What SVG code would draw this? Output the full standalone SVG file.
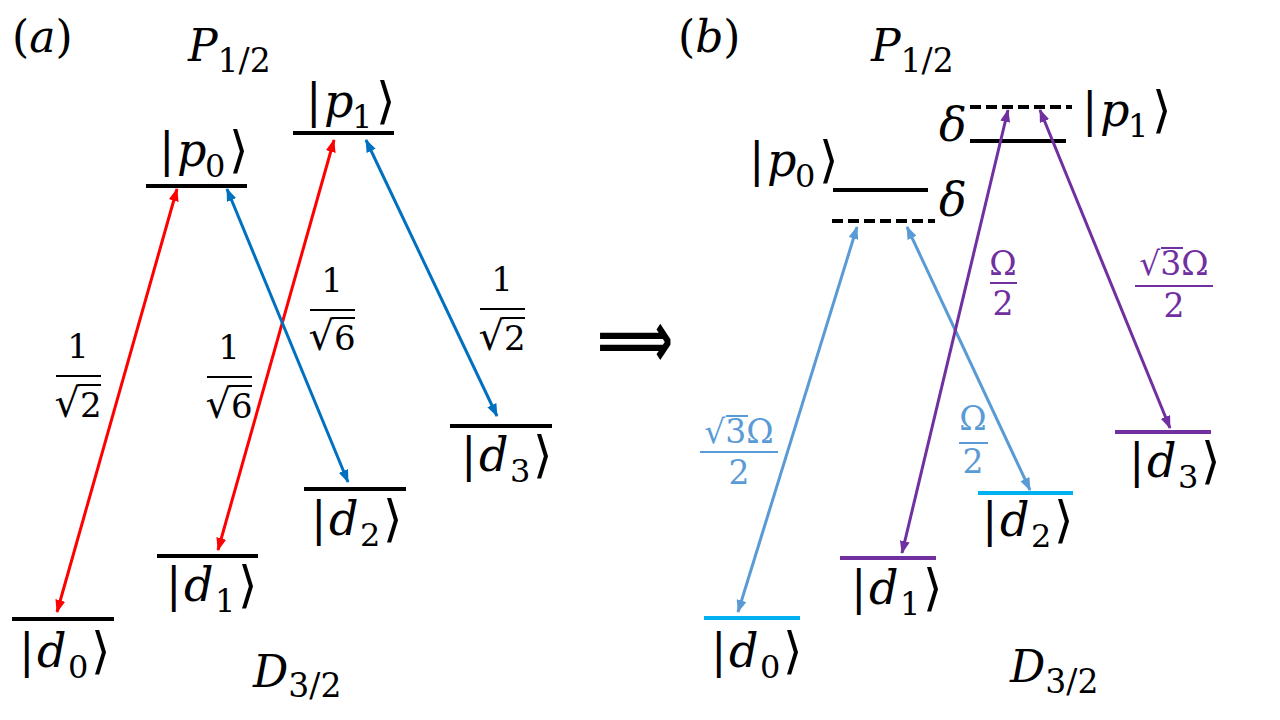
<svg xmlns="http://www.w3.org/2000/svg" width="1280" height="720" viewBox="0 0 1280 720">
<defs>
<style>
.m{font-family:"DejaVu Serif","DejaVu Sans",serif;font-size:46px;fill:#000}
.it{font-style:italic}
.sb{font-size:32px;font-style:normal}
.ang{font-family:"DejaVu Sans",sans-serif;font-style:normal;font-size:50px}
.t{font-family:"DejaVu Serif","DejaVu Sans",serif;font-size:44px;fill:#000}
.ts{font-size:33px;font-style:normal}
.fr{font-family:"DejaVu Serif","DejaVu Sans",serif;font-size:34px;text-anchor:middle;fill:#000}
.rt{font-size:40px}
.fb{font-family:"DejaVu Serif","DejaVu Sans",serif;font-size:33px;text-anchor:middle}
.lv{stroke:#000;stroke-width:4;fill:none}
.dash{stroke-dasharray:11 5}
.bar{stroke-width:2;fill:none}
.ar{stroke-width:3;fill:none}
</style>
<marker id="mr" markerUnits="userSpaceOnUse" markerWidth="13" markerHeight="10" refX="12" refY="5" orient="auto-start-reverse"><path d="M0,0 L13,5 L0,10 z" fill="#FF0000"/></marker>
<marker id="mb" markerUnits="userSpaceOnUse" markerWidth="13" markerHeight="10" refX="12" refY="5" orient="auto-start-reverse"><path d="M0,0 L13,5 L0,10 z" fill="#0070C0"/></marker>
<marker id="ml" markerUnits="userSpaceOnUse" markerWidth="13" markerHeight="10" refX="12" refY="5" orient="auto-start-reverse"><path d="M0,0 L13,5 L0,10 z" fill="#5B9BD5"/></marker>
<marker id="mp" markerUnits="userSpaceOnUse" markerWidth="13" markerHeight="10" refX="12" refY="5" orient="auto-start-reverse"><path d="M0,0 L13,5 L0,10 z" fill="#7030A0"/></marker>
</defs>
<rect width="1280" height="720" fill="#fff"/>

<!-- Panel labels -->
<g id="labels">
<text class="t" x="12" y="52">(<tspan class="it">a</tspan>)</text>
<text class="t" x="678" y="52">(<tspan class="it">b</tspan>)</text>
<text class="t" x="188" y="61"><tspan class="it">P</tspan><tspan class="ts" dy="11">1/2</tspan></text>
<text class="t" x="871" y="61"><tspan class="it">P</tspan><tspan class="ts" dy="11">1/2</tspan></text>
<text class="t" x="253" y="687"><tspan class="it">D</tspan><tspan class="ts" dy="10">3/2</tspan></text>
<text class="t" x="1010" y="682"><tspan class="it">D</tspan><tspan class="ts" dy="11">3/2</tspan></text>
<text x="597" y="367" font-family="DejaVu Sans, sans-serif" font-weight="bold" font-size="80" textLength="76" lengthAdjust="spacingAndGlyphs">⟹</text>
</g>

<!-- Panel (a) levels -->
<g id="a-p0"><line class="lv" x1="146" y1="186" x2="247" y2="186"/>
<text class="m" y="166"><tspan x="159">|</tspan><tspan class="it" x="177">p</tspan><tspan class="sb" x="205" y="177">0</tspan><tspan class="ang" x="229" y="167">⟩</tspan></text></g>
<g id="a-p1"><line class="lv" x1="293" y1="133" x2="394" y2="133"/>
<text class="m" y="117"><tspan x="306">|</tspan><tspan class="it" x="324">p</tspan><tspan class="sb" x="352" y="128">1</tspan><tspan class="ang" x="376" y="118">⟩</tspan></text></g>
<g id="a-d0"><line class="lv" x1="12" y1="619" x2="114" y2="619"/>
<text class="m" y="667"><tspan x="19">|</tspan><tspan class="it" x="37">d</tspan><tspan class="sb" x="68" y="678">0</tspan><tspan class="ang" x="91" y="668">⟩</tspan></text></g>
<g id="a-d1"><line class="lv" x1="157" y1="556" x2="258" y2="556"/>
<text class="m" y="601"><tspan x="166">|</tspan><tspan class="it" x="184">d</tspan><tspan class="sb" x="215" y="612">1</tspan><tspan class="ang" x="238" y="602">⟩</tspan></text></g>
<g id="a-d2"><line class="lv" x1="304" y1="489" x2="406" y2="489"/>
<text class="m" y="535"><tspan x="311">|</tspan><tspan class="it" x="329">d</tspan><tspan class="sb" x="360" y="546">2</tspan><tspan class="ang" x="383" y="536">⟩</tspan></text></g>
<g id="a-d3"><line class="lv" x1="450" y1="426" x2="552" y2="426"/>
<text class="m" y="471"><tspan x="461">|</tspan><tspan class="it" x="479">d</tspan><tspan class="sb" x="510" y="482">3</tspan><tspan class="ang" x="533" y="472">⟩</tspan></text></g>

<!-- Panel (b) levels -->
<g id="b-p0"><line class="lv" x1="833" y1="190" x2="928" y2="190"/>
<line class="lv dash" x1="832" y1="221" x2="935" y2="221"/>
<text class="m" y="176"><tspan x="749">|</tspan><tspan class="it" x="767">p</tspan><tspan class="sb" x="795" y="187">0</tspan><tspan class="ang" x="819" y="177">⟩</tspan></text>
<text class="m it" x="939" y="216" font-size="40">δ</text></g>
<g id="b-p1"><line class="lv dash" x1="970" y1="107" x2="1072" y2="107"/>
<line class="lv" x1="970" y1="141" x2="1066" y2="141"/>
<text class="m" y="126"><tspan x="1082">|</tspan><tspan class="it" x="1100">p</tspan><tspan class="sb" x="1128" y="137">1</tspan><tspan class="ang" x="1152" y="127">⟩</tspan></text>
<text class="m it" x="939" y="141" font-size="40">δ</text></g>
<g id="b-d0"><line class="lv" style="stroke:#00B0F0" x1="704" y1="618" x2="800" y2="618"/>
<text class="m" y="667"><tspan x="711">|</tspan><tspan class="it" x="729">d</tspan><tspan class="sb" x="760" y="678">0</tspan><tspan class="ang" x="783" y="668">⟩</tspan></text></g>
<g id="b-d1"><line class="lv" style="stroke:#7030A0" x1="840" y1="558" x2="936" y2="558"/>
<text class="m" y="604"><tspan x="851">|</tspan><tspan class="it" x="869">d</tspan><tspan class="sb" x="900" y="615">1</tspan><tspan class="ang" x="923" y="605">⟩</tspan></text></g>
<g id="b-d2"><line class="lv" style="stroke:#00B0F0" x1="978" y1="493" x2="1073" y2="493"/>
<text class="m" y="536"><tspan x="982">|</tspan><tspan class="it" x="1000">d</tspan><tspan class="sb" x="1031" y="547">2</tspan><tspan class="ang" x="1054" y="537">⟩</tspan></text></g>
<g id="b-d3"><line class="lv" style="stroke:#7030A0" x1="1115" y1="432" x2="1211" y2="432"/>
<text class="m" y="477"><tspan x="1129">|</tspan><tspan class="it" x="1147">d</tspan><tspan class="sb" x="1178" y="488">3</tspan><tspan class="ang" x="1201" y="478">⟩</tspan></text></g>

<!-- Connectors -->
<g id="connectors">
<line class="ar" stroke="#FF0000" marker-start="url(#mr)" marker-end="url(#mr)" x1="57" y1="612" x2="177" y2="189"/>
<line class="ar" stroke="#FF0000" marker-start="url(#mr)" marker-end="url(#mr)" x1="218" y1="550" x2="334" y2="140"/>
<line class="ar" stroke="#0070C0" marker-start="url(#mb)" marker-end="url(#mb)" x1="227" y1="189" x2="348" y2="482"/>
<line class="ar" stroke="#0070C0" marker-start="url(#mb)" marker-end="url(#mb)" x1="366" y1="140" x2="497" y2="416"/>
<line class="ar" stroke="#5B9BD5" marker-start="url(#ml)" marker-end="url(#ml)" x1="738" y1="612" x2="857" y2="227"/>
<line class="ar" stroke="#5B9BD5" marker-start="url(#ml)" marker-end="url(#ml)" x1="907" y1="227" x2="1030" y2="490"/>
<line class="ar" stroke="#7030A0" marker-start="url(#mp)" marker-end="url(#mp)" x1="902" y1="553" x2="1008" y2="110"/>
<line class="ar" stroke="#7030A0" marker-start="url(#mp)" marker-end="url(#mp)" x1="1040" y1="110" x2="1170" y2="428"/>
</g>

<!-- Coupling labels (a) -->
<g id="frac-a">
<text class="fr" x="78" y="358">1</text><line class="bar" stroke="#000" x1="56" y1="376" x2="101" y2="376"/><text class="fr" x="78" y="417"><tspan class="rt">√</tspan>2</text><line class="bar" stroke="#000" x1="78" y1="385" x2="101" y2="385"/>
<text class="fr" x="229" y="359">1</text><line class="bar" stroke="#000" x1="207" y1="377" x2="252" y2="377"/><text class="fr" x="229" y="418"><tspan class="rt">√</tspan>6</text><line class="bar" stroke="#000" x1="229" y1="386" x2="252" y2="386"/>
<text class="fr" x="332" y="292">1</text><line class="bar" stroke="#000" x1="310" y1="310" x2="355" y2="310"/><text class="fr" x="332" y="350"><tspan class="rt">√</tspan>6</text><line class="bar" stroke="#000" x1="332" y1="318" x2="355" y2="318"/>
<text class="fr" x="502" y="291">1</text><line class="bar" stroke="#000" x1="480" y1="309" x2="525" y2="309"/><text class="fr" x="502" y="350"><tspan class="rt">√</tspan>2</text><line class="bar" stroke="#000" x1="502" y1="318" x2="525" y2="318"/>
</g>

<!-- Coupling labels (b) -->
<g id="frac-b">
<text class="fb" fill="#5B9BD5" x="739" y="443">√3Ω</text><line class="bar" stroke="#5B9BD5" x1="726" y1="416" x2="748" y2="416"/><line class="bar" stroke="#5B9BD5" x1="700" y1="452" x2="778" y2="452"/><text class="fb" fill="#5B9BD5" x="739" y="484">2</text>
<text class="fb" fill="#5B9BD5" x="973" y="430">Ω</text><line class="bar" stroke="#5B9BD5" x1="959" y1="443" x2="988" y2="443"/><text class="fb" fill="#5B9BD5" x="973" y="473">2</text>
<text class="fb" fill="#7030A0" x="1003" y="275">Ω</text><line class="bar" stroke="#7030A0" x1="990" y1="283" x2="1017" y2="283"/><text class="fb" fill="#7030A0" x="1003" y="315">2</text>
<text class="fb" fill="#7030A0" x="1174" y="275">√3Ω</text><line class="bar" stroke="#7030A0" x1="1161" y1="248" x2="1183" y2="248"/><line class="bar" stroke="#7030A0" x1="1135" y1="286" x2="1213" y2="286"/><text class="fb" fill="#7030A0" x="1174" y="317">2</text>
</g>
</svg>
